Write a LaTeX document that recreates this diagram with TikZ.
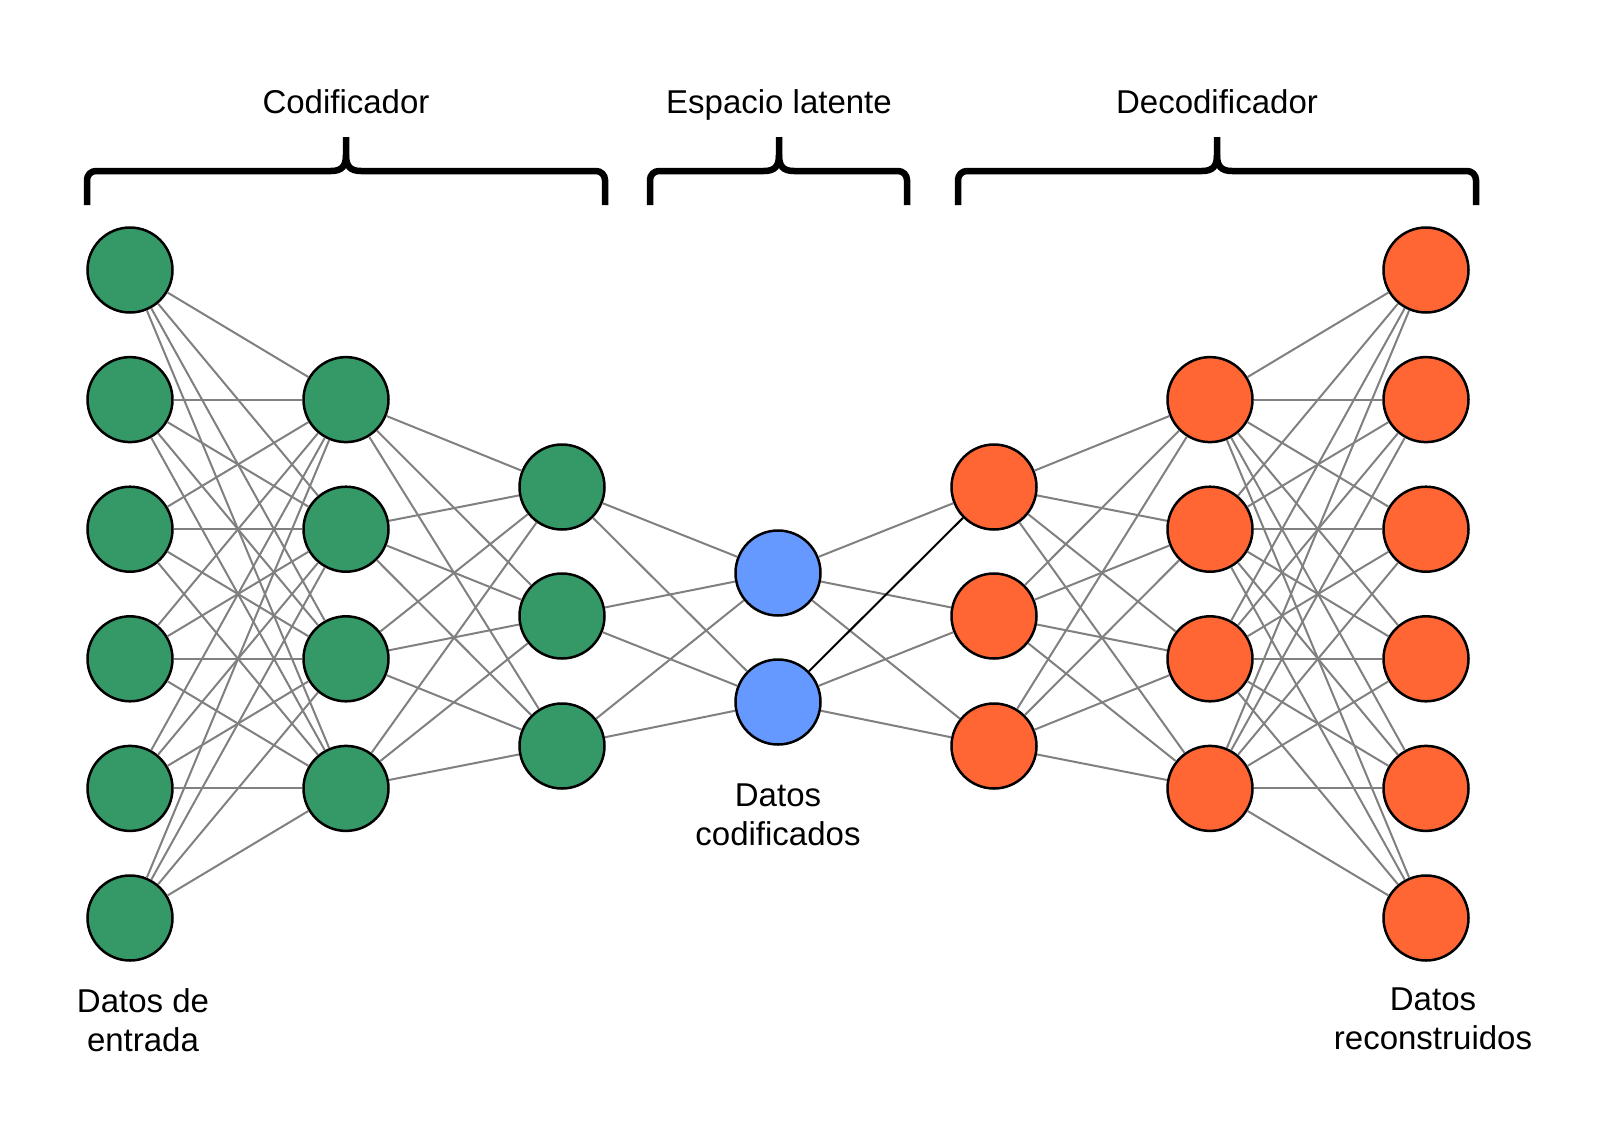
\documentclass[tikz,border=0pt]{standalone}
\usepackage{fontspec}
\setmainfont{Liberation Sans}
\definecolor{encgreen}{RGB}{53,152,103}
\definecolor{latblue}{RGB}{102,153,255}
\definecolor{decorange}{RGB}{255,102,51}
\definecolor{conngray}{RGB}{128,128,128}
\tikzset{
  neuron/.style={circle,draw=black,line width=2.5pt,minimum size=85pt,inner sep=0pt},
  enc/.style={neuron,fill=encgreen},
  lat/.style={neuron,fill=latblue},
  dec/.style={neuron,fill=decorange},
  conn/.style={draw=conngray,line width=2pt},
  hot/.style={draw=black,line width=2pt},
  bracestyle/.style={draw=black,line width=6.5pt},
  lbl/.style={inner sep=0pt,align=center,font=\fontsize{33}{39}\selectfont}
}
\newcommand\mybracepath[3]{%
  \draw[bracestyle] (#1,205) [rounded corners=9pt]-- (#1,171) [sharp corners]-- ({#2-15},171) .. controls ({#2-4},171) and (#2,166) .. (#2,155) -- (#2,137);
  \draw[bracestyle] (#3,205) [rounded corners=9pt]-- (#3,171) [sharp corners]-- ({#2+15},171) .. controls ({#2+4},171) and (#2,166) .. (#2,155);
}
\begin{document}
\begin{tikzpicture}[x=1pt,y=-1pt]
\useasboundingbox (0,0) rectangle (1599,1136);
% layers
\foreach \i/\y in {1/270,2/399.6,3/529.2,4/658.8,5/788.4,6/918}{
  \node[enc] (i\i) at (130,\y) {};
  \node[dec] (o\i) at (1426,\y) {};
}
\foreach \i/\y in {1/399.6,2/529.2,3/658.8,4/788.4}{
  \node[enc] (e\i) at (346,\y) {};
  \node[dec] (k\i) at (1210,\y) {};
}
\foreach \i/\y in {1/487,2/616,3/746}{
  \node[enc] (f\i) at (562,\y) {};
  \node[dec] (g\i) at (994,\y) {};
}
\node[lat] (l1) at (778,573) {};
\node[lat] (l2) at (778,702) {};
% connections
\foreach \a in {1,...,6}{\foreach \b in {1,...,4}{\draw[conn] (i\a) -- (e\b); \draw[conn] (k\b) -- (o\a);}}
\foreach \a in {1,...,4}{\foreach \b in {1,...,3}{\draw[conn] (e\a) -- (f\b); \draw[conn] (g\b) -- (k\a);}}
\foreach \a in {1,...,3}{\foreach \b in {1,2}{\draw[conn] (f\a) -- (l\b);}}
\draw[conn] (l1) -- (g1);
\draw[conn] (l1) -- (g2);
\draw[conn] (l1) -- (g3);
\draw[conn] (l2) -- (g2);
\draw[conn] (l2) -- (g3);
\draw[hot] (l2) -- (g1);
% braces
\mybracepath{87}{346}{605}
\mybracepath{650}{779}{907}
\mybracepath{958}{1217}{1476}
% labels
\node[lbl,anchor=base] (tcod) at (346,113) {Codificador};
\node[lbl,anchor=base] (tlat) at (779,113) {Espacio latente};
\node[lbl,anchor=base] (tdec) at (1217,113) {Decodificador};
\node[lbl,anchor=north] (tin) at (143,988) {Datos de\\entrada};
\node[lbl,anchor=north] (tcodif) at (778,784) {Datos\\codificados};
\node[lbl,anchor=north] (tout) at (1433,988) {Datos\\reconstruidos};
\end{tikzpicture}
\end{document}
